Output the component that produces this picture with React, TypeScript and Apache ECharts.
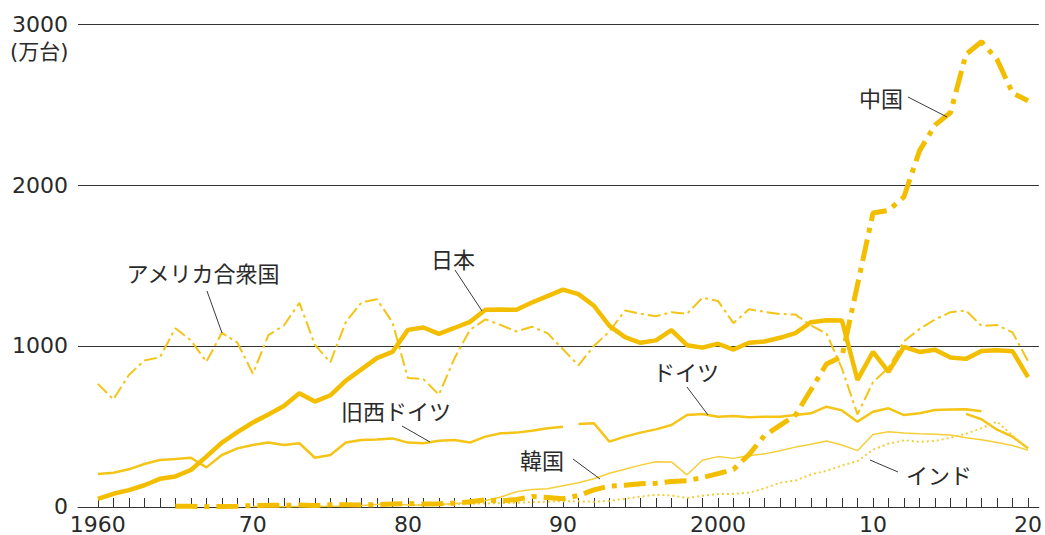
import React, { useEffect, useRef } from "react";
import * as echarts from "echarts";

// ---- data (万台) ----
const JAPAN_START = 1960;
const JAPAN = [
  50, 82, 105, 135, 175, 190, 230, 313, 400, 465,
  525, 575, 627, 706, 655, 694, 785, 855, 925, 963,
  1100, 1115, 1075, 1112, 1150, 1225, 1226, 1225, 1270, 1310,
  1350, 1322, 1250, 1125, 1055, 1020, 1035, 1098, 1005, 990,
  1014, 978, 1020, 1028, 1051, 1080, 1148, 1160, 1158, 790,
  963, 840, 994, 963, 977, 928, 920, 969, 973, 968,
  807,
];

const USA_START = 1960;
const USA = [
  765, 668, 820, 910, 930, 1110, 1035, 902, 1082, 1021,
  828, 1067, 1127, 1268, 1007, 899, 1150, 1270, 1290, 1148,
  801, 794, 698, 922, 1100, 1165, 1130, 1090, 1120, 1080,
  980, 880, 1000, 1090, 1220, 1200, 1185, 1210, 1200, 1300,
  1280, 1142, 1228, 1212, 1199, 1195, 1128, 1078, 860, 575,
  775, 865, 1030, 1105, 1165, 1210, 1220, 1125, 1130, 1085,
  905,
];

const WGERMANY_START = 1960;
const WGERMANY = [
  205, 213, 234, 267, 292, 298, 306, 246, 323, 364,
  385, 400, 385, 396, 306, 323, 400, 416, 420, 426,
  400, 396, 412, 416, 400, 437, 458, 462, 474, 489,
  499,
];

const GERMANY_A_START = 1991;
const GERMANY_A = [
  516, 520, 406, 437, 462, 482, 509, 571, 578,
  561, 565, 557, 561, 561, 571, 582, 623, 600, 530,
  592, 613, 571, 582, 602, 605, 607, 595,
];

const GERMANY_B_START = 2016;
const GERMANY_B = [578, 545, 480, 437, 365];

const KOREA_START = 1970;
const KOREA = [
  3, 2, 2, 3, 3, 4, 5, 9, 16, 20,
  12, 13, 16, 22, 27, 40, 62, 95, 108, 113,
  132, 150, 175, 210, 235, 260, 281, 280, 200, 290,
  313, 302, 320, 330, 350, 372, 390, 410, 385, 350,
  450, 468, 460, 455, 452, 447, 430, 418, 400, 382,
  352,
];

const CHINA_START = 1965;
const CHINA = [
  4, 5, 2, 3, 5,
  9, 11, 11, 12, 10, 14, 14, 13, 15, 19,
  22, 18, 20, 24, 32, 44, 37, 47, 65, 59,
  51, 71, 106, 130, 135, 145, 147, 158, 163, 183,
  207, 234, 325, 444, 507, 571, 728, 888, 935, 1380,
  1826, 1842, 1927, 2212, 2372, 2450, 2812, 2890, 2780, 2572,
  2523,
];

const INDIA_START = 1980;
const INDIA = [
  11, 13, 15, 17, 20, 22, 24, 26, 30, 33,
  36, 35, 33, 38, 50, 64, 76, 72, 56, 70,
  80, 82, 89, 115, 151, 164, 202, 225, 258, 285,
  356, 393, 414, 405, 410, 430, 455, 490, 530, 445,
  360,
];

const X_TICKS: number[] = [];
for (let y = 1960; y <= 2020; y++) X_TICKS.push(y);
const X_LABELS = [1960, 1970, 1980, 1990, 2000, 2010, 2020];
const Y_TICKS = [0, 1000, 2000, 3000];

const toPairs = (start: number, vals: number[]) => vals.map((v, i) => [start + i, v]);

const NUM_FONT = '"DejaVu Sans", "Noto Sans CJK JP", sans-serif';
const JP_FONT = '"Noto Sans CJK JP", sans-serif';
const TEXT_COLOR = "#2a2a2a";
const LEADER = "#3a3a3a";

const GOLD = "#F3BE00";
const MID = "#F4C417";
const PALE = "#F6CE3A";

export default function App() {
  const ref = useRef<HTMLDivElement>(null);

  useEffect(() => {
    if (!ref.current) return;
    const chart = echarts.init(ref.current, undefined, { renderer: "svg" });

    const lineSeries = (name: string, data: number[][], style: any, z: number) => ({
      name,
      type: "line",
      data,
      symbol: "none",
      smooth: false,
      connectNulls: false,
      z,
      lineStyle: style,
      emphasis: { disabled: true },
    });

    const labels = [
      { text: "アメリカ合衆国", x: 203, y: 272, l: [207, 291, 222, 333] },
      { text: "日本", x: 453, y: 258, l: [455, 270, 482, 311] },
      { text: "旧西ドイツ", x: 396, y: 410, l: [402, 426, 430, 442] },
      { text: "ドイツ", x: 686, y: 371, l: [687, 387, 708, 415] },
      { text: "韓国", x: 542, y: 459, l: [573, 459, 600, 479] },
      { text: "インド", x: 939, y: 474, l: [870, 460, 898, 472] },
      { text: "中国", x: 881, y: 97, l: [908, 97, 947, 117] },
    ];

    const graphic: any[] = [
      {
        type: "text",
        x: 10,
        y: 52,
        style: {
          text: "(万台)",
          font: `21px ${NUM_FONT}`,
          fill: TEXT_COLOR,
          align: "left",
          verticalAlign: "middle",
        },
        z: 100,
      },
    ];
    labels.forEach((lb) => {
      graphic.push({
        type: "text",
        x: lb.x,
        y: lb.y,
        style: {
          text: lb.text,
          font: `22px ${JP_FONT}`,
          fill: TEXT_COLOR,
          align: "center",
          verticalAlign: "middle",
        },
        z: 100,
      });
      graphic.push({
        type: "line",
        shape: { x1: lb.l[0], y1: lb.l[1], x2: lb.l[2], y2: lb.l[3] },
        style: { stroke: LEADER, lineWidth: 1 },
        z: 100,
      });
    });

    chart.setOption({
      animation: false,
      backgroundColor: "#ffffff",
      grid: { left: 78, right: 0, top: 24, bottom: 28, containLabel: false },
      xAxis: {
        type: "value",
        min: 1958.72,
        max: 2020.7,
        axisLine: { show: true, lineStyle: { color: "#333", width: 1 } },
        axisTick: {
          show: true,
          inside: true,
          length: 9,
          customValues: X_TICKS,
          lineStyle: { color: "#333", width: 1 },
        },
        axisLabel: {
          show: true,
          customValues: X_LABELS,
          margin: 6,
          color: TEXT_COLOR,
          fontSize: 22,
          fontFamily: NUM_FONT,
          showMinLabel: true,
          showMaxLabel: true,
          hideOverlap: false,
          formatter: (v: number) =>
            v === 1960 || v === 2000 ? String(v) : String(v % 100).padStart(2, "0"),
        },
        splitLine: { show: false },
      },
      yAxis: {
        type: "value",
        min: 0,
        max: 3000,
        interval: 1000,
        axisLine: { show: false },
        axisTick: { show: false },
        axisLabel: {
          show: true,
          customValues: Y_TICKS,
          margin: 10,
          color: TEXT_COLOR,
          fontSize: 22,
          fontFamily: NUM_FONT,
          formatter: (v: number) => String(v),
        },
        splitLine: { show: true, lineStyle: { color: "#333", width: 1 } },
      },
      series: [
        lineSeries("アメリカ合衆国", toPairs(USA_START, USA), { color: MID, width: 2, type: [13, 4, 3, 4] }, 3),
        lineSeries("旧西ドイツ", toPairs(WGERMANY_START, WGERMANY), { color: MID, width: 2.5 }, 4),
        lineSeries("ドイツ", toPairs(GERMANY_A_START, GERMANY_A), { color: MID, width: 2.5 }, 4),
        lineSeries("ドイツ(2)", toPairs(GERMANY_B_START, GERMANY_B), { color: MID, width: 2.5 }, 4),
        lineSeries("韓国", toPairs(KOREA_START, KOREA), { color: PALE, width: 1.5 }, 5),
        lineSeries("インド", toPairs(INDIA_START, INDIA), { color: PALE, width: 2, type: [2, 3] }, 5),
        lineSeries("中国", toPairs(CHINA_START, CHINA), { color: GOLD, width: 5, type: [22, 7, 5, 7] }, 6),
        lineSeries("日本", toPairs(JAPAN_START, JAPAN), { color: GOLD, width: 4.5 }, 7),
      ],
      graphic,
    });

    return () => chart.dispose();
  }, []);

  return (
    <div
      ref={ref}
      style={{ position: "fixed", left: 0, top: 0, width: 1045, height: 535, background: "#fff" }}
    />
  );
}
